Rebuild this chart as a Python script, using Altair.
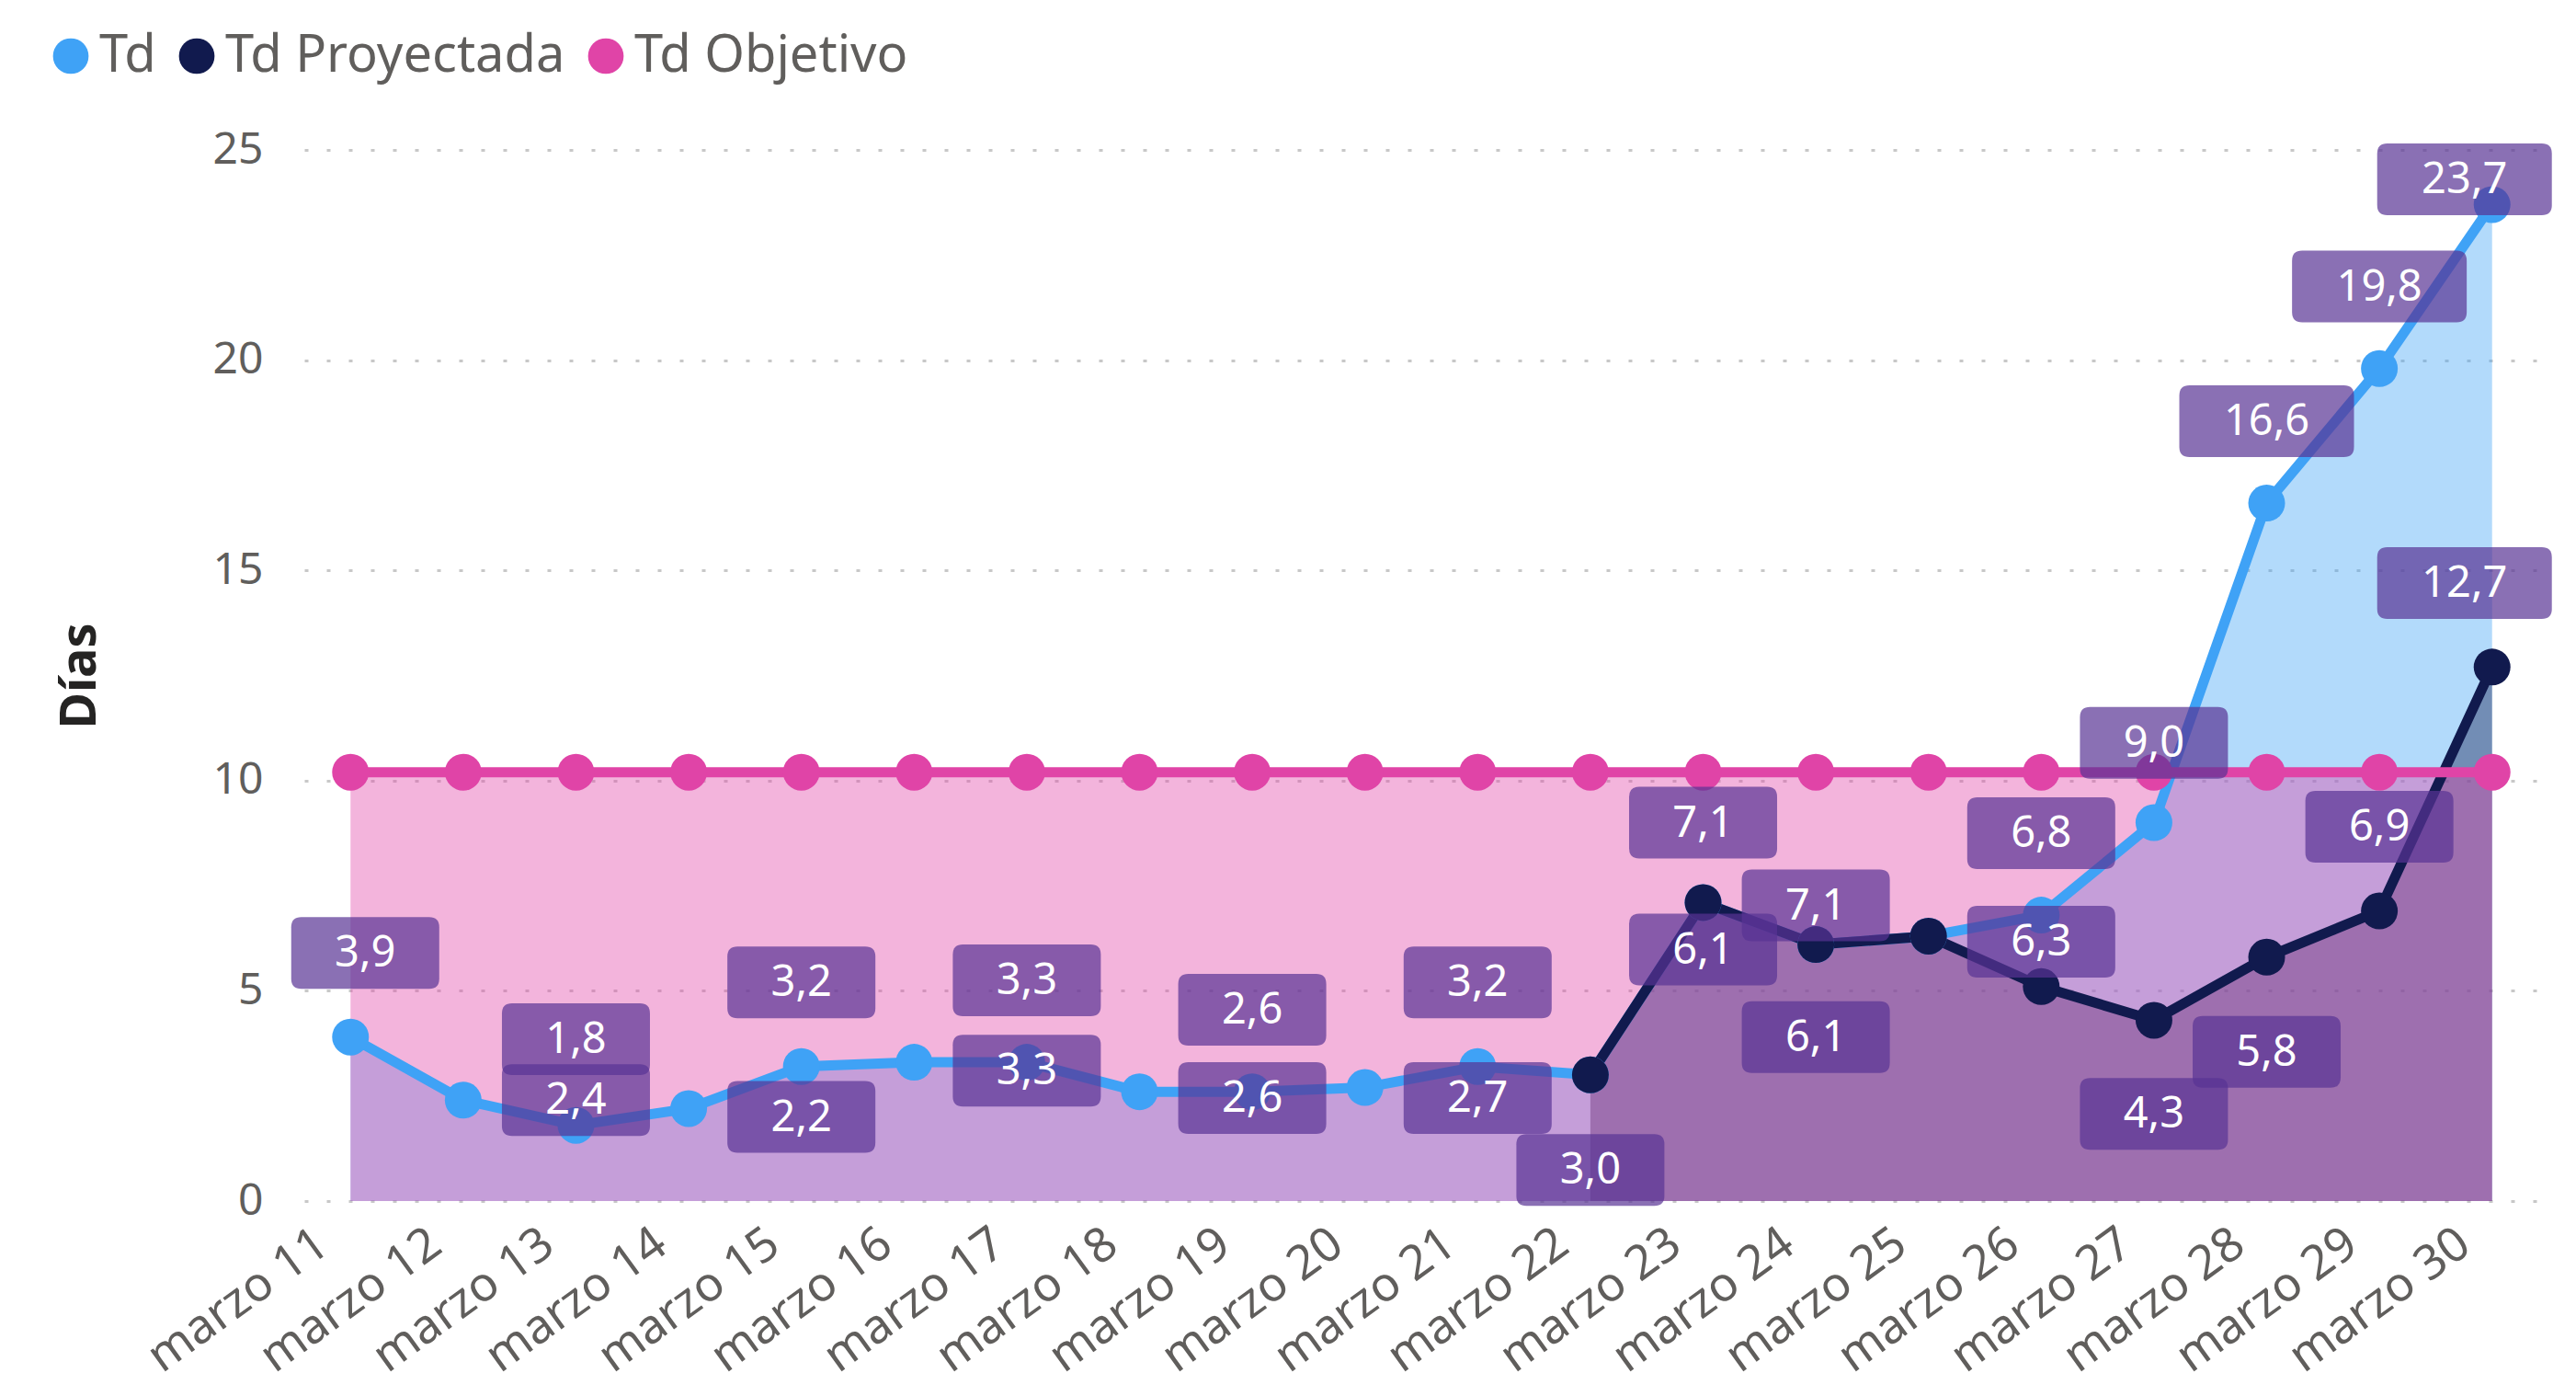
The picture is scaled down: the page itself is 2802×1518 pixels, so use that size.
import altair as alt
import pandas as pd

# ---------------- data ----------------
dates = ["marzo 11", "marzo 12", "marzo 13", "marzo 14", "marzo 15",
         "marzo 16", "marzo 17", "marzo 18", "marzo 19", "marzo 20",
         "marzo 21", "marzo 22", "marzo 23", "marzo 24", "marzo 25",
         "marzo 26", "marzo 27", "marzo 28", "marzo 29", "marzo 30"]

td = [3.9, 2.4, 1.8, 2.2, 3.2, 3.3, 3.3, 2.6, 2.6, 2.7,
      3.2, 3.0, 7.1, 6.1, 6.3, 6.8, 9.0, 16.6, 19.8, 23.7]
td_proyectada = [None, None, None, None, None, None, None, None, None, None,
                 None, 3.0, 7.1, 6.1, 6.3, 5.1, 4.3, 5.8, 6.9, 12.7]
td_objetivo = [10.2, 10.2, 10.2, 10.2, 10.2, 10.2, 10.2, 10.2, 10.2, 10.2,
               10.2, 10.2, 10.2, 10.2, 10.2, 10.2, 10.2, 10.2, 10.2, 10.2]

series_names = ["Td", "Td Proyectada", "Td Objetivo"]
series_colors = ["#3FA2F6", "#111A4E", "#E044A7"]

# data labels as shown (Power BI style boxes)
label_dates = ["marzo 11", "marzo 13", "marzo 13", "marzo 15", "marzo 15",
               "marzo 17", "marzo 17", "marzo 19", "marzo 19", "marzo 21",
               "marzo 21", "marzo 22", "marzo 23", "marzo 23", "marzo 24",
               "marzo 24", "marzo 26", "marzo 26", "marzo 27", "marzo 27",
               "marzo 28", "marzo 28", "marzo 29", "marzo 29", "marzo 30",
               "marzo 30"]
label_texts = ["3,9", "1,8", "2,4", "3,2", "2,2", "3,3", "3,3", "2,6", "2,6",
               "3,2", "2,7", "3,0", "7,1", "6,1", "7,1", "6,1", "6,8", "6,3",
               "9,0", "4,3", "16,6", "5,8", "19,8", "6,9", "23,7", "12,7"]
label_y = [5.9, 3.85, 2.4, 5.2, 2.0, 5.25, 3.1, 4.55, 2.45, 5.2,
           2.45, 0.74, 9.0, 5.98, 7.03, 3.9, 8.75, 6.17, 10.9, 2.07,
           18.55, 3.55, 21.75, 8.9, 24.3, 14.7]

rows = []
for name, vals in zip(series_names, [td, td_proyectada, td_objetivo]):
    for d, v in zip(dates, vals):
        rows.append({"fecha": d, "serie": name, "valor": v})
df = pd.DataFrame(rows)

FONT = "Segoe UI, Noto Sans"
EDGE_SHIFT = {"marzo 11": 16, "marzo 30": -30}   # px nudges for edge labels (style)


def rr_path(w, h, r, shift):
    # rounded rectangle path in the [-1, 1] unit box, scaled later by mark size
    s = 2.0 / w
    hw, hh, rr, c = 1.0, h * s / 2, r * s, shift * s
    x0, x1, y0, y1 = -hw + c, hw + c, -hh, hh
    return (f"M{x0 + rr},{y0} L{x1 - rr},{y0} Q{x1},{y0} {x1},{y0 + rr} "
            f"L{x1},{y1 - rr} Q{x1},{y1} {x1 - rr},{y1} L{x0 + rr},{y1} "
            f"Q{x0},{y1} {x0},{y1 - rr} L{x0},{y0 + rr} Q{x0},{y0} {x0 + rr},{y0} Z")


lab = pd.DataFrame({"fecha": label_dates, "texto": label_texts, "ly": label_y})
lab["bw"] = [190 if len(t) > 3 else 161 for t in label_texts]
lab["shape"] = [rr_path(w, 78, 11, EDGE_SHIFT.get(d, 0)) for w, d in zip(lab["bw"], label_dates)]
lab["size"] = lab["bw"] ** 2

# ---------------- encodings ----------------
x_enc = alt.X("fecha:N", sort=dates, title=None,
              scale=alt.Scale(padding=0.41),
              axis=alt.Axis(labelAngle=324, labelAlign="right", labelBaseline="top",
                            labelOffset=-45, labelPadding=20, labelFontSize=52,
                            labelLimit=600, labelFont=FONT, labelColor="#605E5C",
                            labelOverlap=False, labelBound=False,
                            ticks=False, domain=False, grid=False))
y_enc = alt.Y("valor:Q", stack=None, title="Días",
              scale=alt.Scale(domain=[0, 25], nice=False),
              axis=alt.Axis(values=[0, 5, 10, 15, 20, 25], labelFontSize=48,
                            labelFont=FONT, labelColor="#605E5C", labelPadding=45,
                            ticks=False, domain=False, grid=True,
                            gridColor="#C8C8C8", gridDash=[4, 20], gridWidth=3,
                            titleFont=FONT, titleFontSize=54, titleFontWeight="bold",
                            titleColor="#252423", titlePadding=117))

base = alt.Chart(df).transform_filter("isValid(datum.valor)")


def area_layer(name, color):
    return base.transform_filter(alt.datum.serie == name).mark_area(
        color=color, opacity=0.4).encode(x=x_enc, y=y_enc)


def line_layer(name, color):
    return base.transform_filter(alt.datum.serie == name).mark_line(
        color=color, strokeWidth=11).encode(x=x_enc, y=y_enc)


areas = [area_layer(n, c) for n, c in zip(series_names, series_colors)]
lines = [line_layer(n, c) for n, c in zip(series_names, series_colors)]

points = base.mark_point(filled=True, size=1600, opacity=1).encode(
    x=x_enc, y=y_enc,
    color=alt.Color("serie:N", sort=series_names,
                    scale=alt.Scale(domain=series_names, range=series_colors),
                    legend=alt.Legend(title=None, orient="none", direction="horizontal",
                                      legendX=-282, legendY=-130, padding=0,
                                      symbolType="circle", symbolSize=1500,
                                      symbolStrokeWidth=0, symbolOpacity=1,
                                      labelFont=FONT, labelFontSize=56,
                                      labelColor="#605E5C", labelOffset=3,
                                      columnPadding=16, labelLimit=800)),
)

lab_base = alt.Chart(lab)
ly_enc = alt.Y("ly:Q", scale=alt.Scale(domain=[0, 25], nice=False))
lx_enc = alt.X("fecha:N", sort=dates, scale=alt.Scale(padding=0.41))

boxes = lab_base.mark_point(filled=True, color="#593394", opacity=0.7).encode(
    x=lx_enc, y=ly_enc,
    shape=alt.Shape("shape:N", scale=None, legend=None),
    size=alt.Size("size:Q", scale=None, legend=None),
)


def text_layer(flt, dx):
    return lab_base.transform_filter(flt).mark_text(
        font=FONT, fontSize=47, color="white", align="center", baseline="middle",
        dy=1, dx=dx).encode(x=lx_enc, y=ly_enc, text="texto:N")


texts = [
    text_layer("datum.fecha != 'marzo 11' && datum.fecha != 'marzo 30'", 0),
    text_layer("datum.fecha == 'marzo 11'", EDGE_SHIFT["marzo 11"]),
    text_layer("datum.fecha == 'marzo 30'", EDGE_SHIFT["marzo 30"]),
]

chart = alt.layer(*areas, *lines, points, boxes, *texts).properties(
    width=2430, height=1143,
    autosize=alt.AutoSizeParams(type="none"),
    padding={"left": 323, "top": 155, "right": 33, "bottom": 214},
    background="white",
).configure_view(stroke=None)

chart.save("out.html", embed_options={"renderer": "svg", "actions": False})
